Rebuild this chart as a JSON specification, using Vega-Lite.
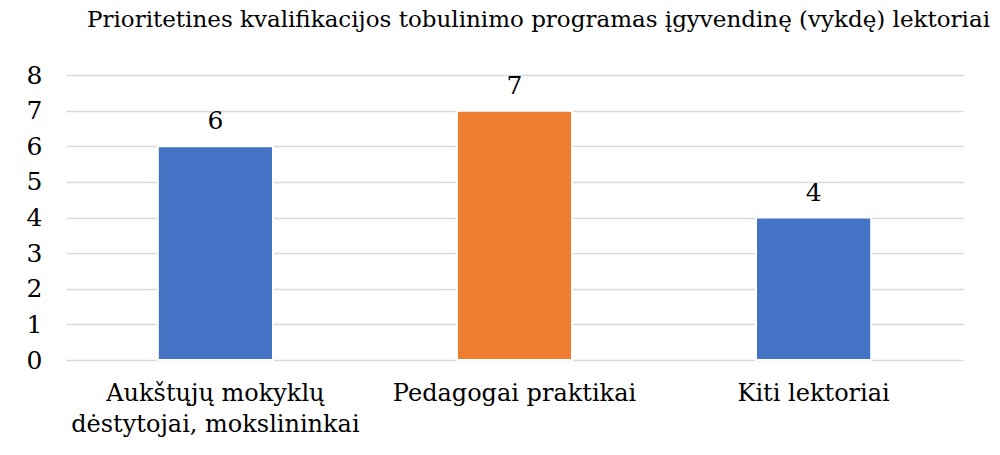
{
  "$schema": "https://vega.github.io/schema/vega-lite/v6.json",
  "autosize": "none",
  "width": 897,
  "height": 285,
  "padding": {"left": 66, "top": 75, "right": 37, "bottom": 95},
  "background": "white",
  "config": {
    "font": "DejaVu Serif",
    "view": {"stroke": null}
  },
  "title": {
    "text": "Prioritetines kvalifikacijos tobulinimo programas įgyvendinę (vykdę) lektoriai",
    "font": "DejaVu Serif",
    "fontSize": 23,
    "fontWeight": "normal",
    "color": "#000000",
    "anchor": "middle",
    "dx": 24,
    "offset": 31
  },
  "data": {
    "values": [
      {"category": "Aukštųjų mokyklų dėstytojai, mokslininkai", "value": 6, "group": "a"},
      {"category": "Pedagogai praktikai", "value": 7, "group": "b"},
      {"category": "Kiti lektoriai", "value": 4, "group": "a"}
    ]
  },
  "encoding": {
    "x": {
      "field": "category",
      "type": "nominal",
      "sort": null,
      "scale": {"paddingInner": 0.615, "paddingOuter": 0.307},
      "axis": {
        "title": null,
        "labelAngle": 0,
        "labelFont": "DejaVu Serif",
        "labelFontSize": 24,
        "labelColor": "#000000",
        "labelPadding": 21,
        "labelLineHeight": 31,
        "labelLimit": 0,
        "ticks": false,
        "domain": false,
        "labelExpr": "datum.label == 'Aukštųjų mokyklų dėstytojai, mokslininkai' ? ['Aukštųjų mokyklų', 'dėstytojai, mokslininkai'] : datum.label"
      }
    },
    "y": {
      "field": "value",
      "type": "quantitative",
      "scale": {"domain": [0, 8]},
      "axis": {
        "title": null,
        "values": [0, 1, 2, 3, 4, 5, 6, 7, 8],
        "labelOverlap": false,
        "labelFont": "DejaVu Serif",
        "labelFontSize": 25,
        "labelColor": "#000000",
        "labelPadding": 24,
        "ticks": false,
        "domain": false,
        "gridColor": "#d9d9d9",
        "gridWidth": 1.5
      }
    }
  },
  "layer": [
    {
      "mark": {"type": "bar", "stroke": "white", "strokeWidth": 2},
      "encoding": {
        "color": {
          "field": "group",
          "type": "nominal",
          "scale": {"domain": ["a", "b"], "range": ["#4472C4", "#ED7D31"]},
          "legend": null
        }
      }
    },
    {
      "mark": {"type": "text", "baseline": "alphabetic", "dy": -17, "fontSize": 25, "color": "#000000", "font": "DejaVu Serif"},
      "encoding": {
        "text": {"field": "value", "type": "quantitative"}
      }
    }
  ]
}
